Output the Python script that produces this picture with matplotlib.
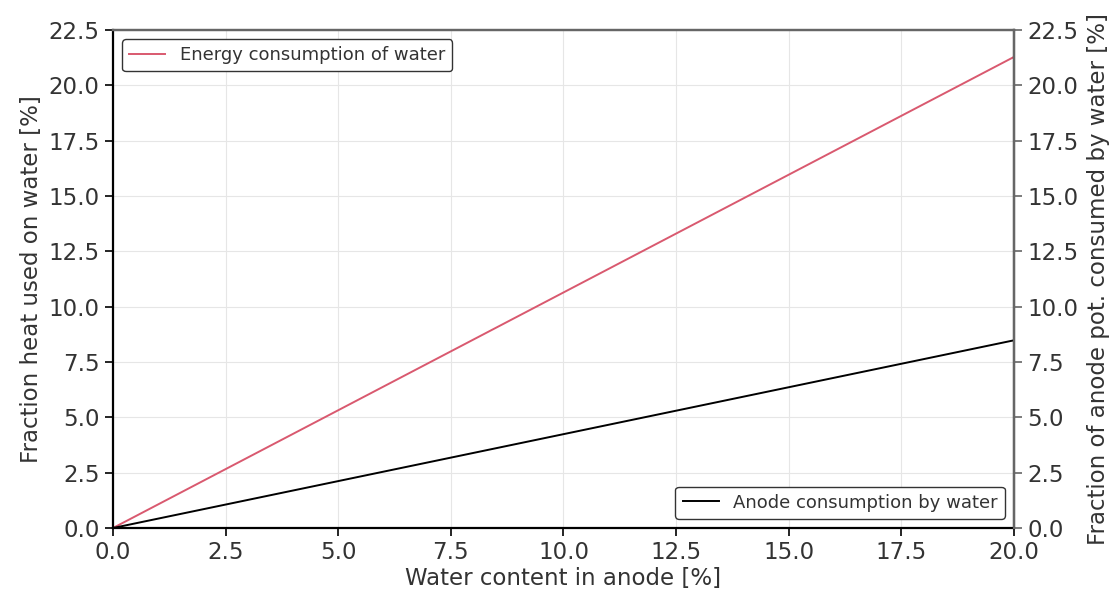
import matplotlib
matplotlib.use("Agg")
import matplotlib.pyplot as plt

water_content = [0.0, 2.5, 5.0, 7.5, 10.0, 12.5, 15.0, 17.5, 20.0]
energy_frac = [0.0, 2.66, 5.32, 7.98, 10.64, 13.3, 15.96, 18.62, 21.28]
anode_frac = [0.0, 1.06, 2.12, 3.18, 4.24, 5.3, 6.36, 7.42, 8.48]
ticks = [0.0, 2.5, 5.0, 7.5, 10.0, 12.5, 15.0, 17.5, 20.0, 22.5]

txt = "#333333"
fs = 16.5
fig = plt.figure(figsize=(11.18, 5.98), dpi=100)
ax = fig.add_axes([0.101, 0.117, 0.806, 0.833])
ax2 = ax.twinx()

ax.plot(water_content, energy_frac, color="#d9596f", lw=1.4, label="Energy consumption of water")
ax2.plot(water_content, anode_frac, color="black", lw=1.4, label="Anode consumption by water")

for a in (ax, ax2):
    a.set_xlim(0, 20)
    a.set_ylim(0, 22.5)
    a.set_yticks(ticks)
    a.set_yticklabels([f"{t:.1f}" for t in ticks])
    a.tick_params(labelsize=fs, colors=txt, length=6, width=1.2)
ax.set_xticks(ticks[:-1])
ax.set_xticklabels([f"{t:.1f}" for t in ticks[:-1]])
ax.tick_params(axis="both", colors="black", labelcolor=txt)
ax.grid(True, color="#e6e6e6", lw=0.8)

ax.spines["left"].set_color("black")
ax.spines["bottom"].set_color("black")
ax.spines["top"].set_color("#666666")
ax2.spines["right"].set_color("#666666")
ax2.spines["top"].set_color("#666666")
ax2.spines["left"].set_visible(False)
ax2.spines["bottom"].set_visible(False)
for s in ax.spines.values():
    s.set_linewidth(1.6)
for s in ax2.spines.values():
    s.set_linewidth(1.6)
ax2.tick_params(axis="y", colors="#666666", labelcolor=txt)

ax.set_xlabel("Water content in anode [%]", fontsize=fs, color=txt, labelpad=2)
ax.set_ylabel("Fraction heat used on water [%]", fontsize=fs, color=txt, labelpad=4)
ax2.set_ylabel("Fraction of anode pot. consumed by water [%]", fontsize=fs, color=txt, labelpad=6)

l1 = ax.legend(loc="upper left", fontsize=13, frameon=True, fancybox=True, framealpha=1)
l1.get_frame().set_edgecolor("#333333")
l2 = ax2.legend(loc="lower right", fontsize=13, frameon=True, fancybox=True, framealpha=1)
l2.get_frame().set_edgecolor("#333333")
for l in (l1, l2):
    for t in l.get_texts():
        t.set_color(txt)

fig.savefig("out.png", dpi=100)
